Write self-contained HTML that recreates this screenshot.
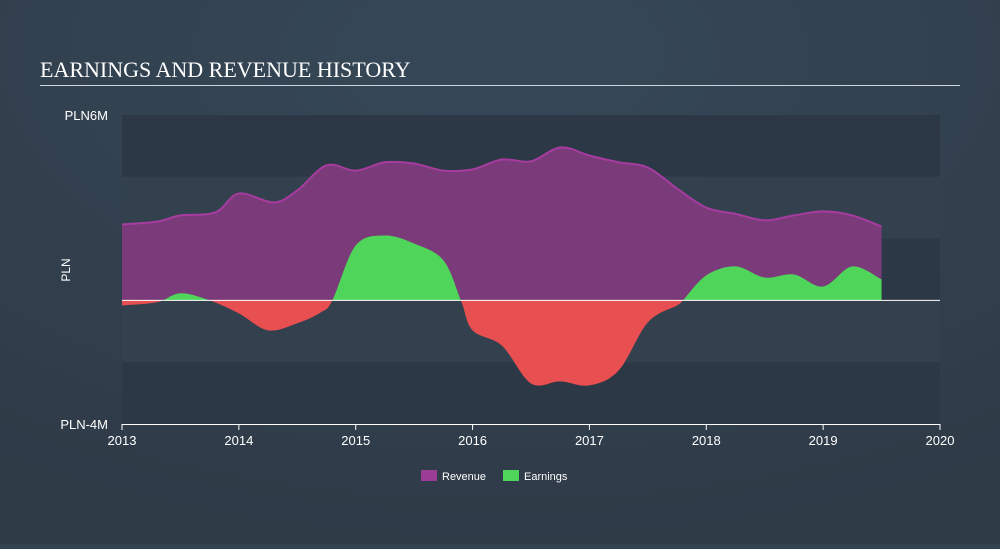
<!DOCTYPE html>
<html><head><meta charset="utf-8"><style>
body{margin:0;width:1000px;height:544px;background:#33424f;font-family:"Liberation Sans",sans-serif;overflow:hidden}
</style></head><body>
<svg width="1000" height="544">
<defs>
<radialGradient id="bg" cx="50%" cy="10%" r="90%"><stop offset="0" stop-color="#364858"/><stop offset="1" stop-color="#2f3a47"/></radialGradient>
<clipPath id="above"><rect x="0" y="0" width="1000" height="300.4"/></clipPath>
<clipPath id="below"><rect x="0" y="300.4" width="1000" height="300"/></clipPath>
</defs>
<rect width="1000" height="544" fill="url(#bg)"/>
<text x="40" y="77" fill="#fff" font-family="Liberation Serif,serif" font-size="22">EARNINGS AND REVENUE HISTORY</text>
<rect x="40" y="85" width="920" height="1" fill="#cfd5db"/>
<g id="bands"></g>
<g id="series"></g>
<g id="axes"></g>
<text x="70" y="270" fill="#fff" font-size="12" transform="rotate(-90 70 270)" text-anchor="middle">PLN</text>
<g>
<g><rect x="421" y="470" width="16" height="11" fill="#9b3d96"/><text x="442" y="480" fill="#fff" font-size="11">Revenue</text></g>
<g><rect x="503" y="470" width="16" height="11" fill="#4fd65a"/><text x="524" y="480" fill="#fff" font-size="11">Earnings</text></g>
</g>
</svg>
<script>
const years=[2013,2014,2015,2016,2017,2018,2019,2020];
const yTickLabels=["PLN6M","PLN-4M"];
const revT=[2013.0,2013.3,2013.5,2013.8,2014.0,2014.3,2014.5,2014.75,2015.0,2015.25,2015.5,2015.75,2016.0,2016.25,2016.5,2016.75,2017.0,2017.25,2017.5,2017.75,2018.0,2018.25,2018.5,2018.75,2019.0,2019.25,2019.5];
const revV=[2.46,2.55,2.75,2.85,3.46,3.17,3.56,4.37,4.2,4.47,4.43,4.2,4.24,4.56,4.5,4.95,4.69,4.47,4.3,3.62,3.0,2.8,2.59,2.75,2.88,2.75,2.39];
const earnT=[2013.0,2013.3,2013.5,2013.75,2014.0,2014.25,2014.5,2014.7,2014.8,2015.0,2015.25,2015.5,2015.75,2015.9,2016.0,2016.25,2016.5,2016.75,2017.0,2017.25,2017.5,2017.75,2017.8,2018.0,2018.25,2018.5,2018.75,2019.0,2019.25,2019.5];
const earnV=[-0.16,-0.06,0.23,0,-0.42,-0.97,-0.74,-0.39,0,1.78,2.1,1.84,1.3,0,-0.97,-1.46,-2.69,-2.62,-2.75,-2.27,-0.71,-0.16,0,0.81,1.1,0.74,0.84,0.45,1.1,0.68];
const NS="http://www.w3.org/2000/svg";
const X0=122,X1=940,Y0=115,Y1=424,VMAX=6,VMIN=-4;
const x=t=>X0+(t-2013)/7*(X1-X0);
const y=v=>Y0+(VMAX-v)/(VMAX-VMIN)*(Y1-Y0);
function mk(tag,attrs,parent){const e=document.createElementNS(NS,tag);for(const k in attrs)e.setAttribute(k,attrs[k]);parent.appendChild(e);return e;}
function smooth(T,V){const p=T.map((t,i)=>[x(t),y(V[i])]);let d="M"+p[0];for(let i=0;i<p.length-1;i++){const a=p[i-1]||p[i],b=p[i],c=p[i+1],e=p[i+2]||c;const c1=[b[0]+(c[0]-a[0])/6,b[1]+(c[1]-a[1])/6],c2=[c[0]-(e[0]-b[0])/6,c[1]-(e[1]-b[1])/6];d+="C"+c1+" "+c2+" "+c;}return d;}
const bands=document.getElementById('bands');
for(let i=0;i<5;i++){const v=VMAX-2*i;
const r=mk('rect',{x:X0,y:y(v),width:X1-X0,height:y(v-2)-y(v),fill:i%2?'#33414f':'#2c3846'},bands);

}
const s=document.getElementById('series');
const rl=smooth(revT,revV);
const rev=mk('path',{d:rl+"L"+x(revT[revT.length-1])+","+y(0)+"L"+x(revT[0])+","+y(0)+"Z",fill:'#7b3a7a'},s);


const revLine=mk('path',{d:rl,fill:'none',stroke:'#a63c9f','stroke-width':2},s);


const el=smooth(earnT,earnV);
const ed=el+"L"+x(earnT[earnT.length-1])+","+y(0)+"L"+x(earnT[0])+","+y(0)+"Z";
const ep=mk('path',{d:ed,fill:'#4fd65a','clip-path':'url(#above)'},s);


const en=mk('path',{d:ed,fill:'#e84f50','clip-path':'url(#below)'},s);


const ax=document.getElementById('axes');
const zl=mk('line',{x1:X0,x2:X1,y1:y(0),y2:y(0),stroke:'#fff','stroke-width':1},ax);


const xl=mk('line',{x1:X0,x2:X1,y1:Y1+0.5,y2:Y1+0.5,stroke:'#fff','stroke-width':1},ax);


years.forEach(yr=>{const tk=mk('line',{x1:x(yr),x2:x(yr),y1:Y1,y2:Y1+6,stroke:'#fff'},ax);


const t=mk('text',{x:x(yr),y:445,fill:'#fff','font-size':13,'text-anchor':'middle'},ax);t.textContent=yr;

});
[[VMAX,yTickLabels[0]],[VMIN,yTickLabels[1]]].forEach(([v,l])=>{const t=mk('text',{x:X0-14,y:y(v)+5,fill:'#fff','font-size':13,'text-anchor':'end'},ax);t.textContent=l;

});
</script>
</body></html>
